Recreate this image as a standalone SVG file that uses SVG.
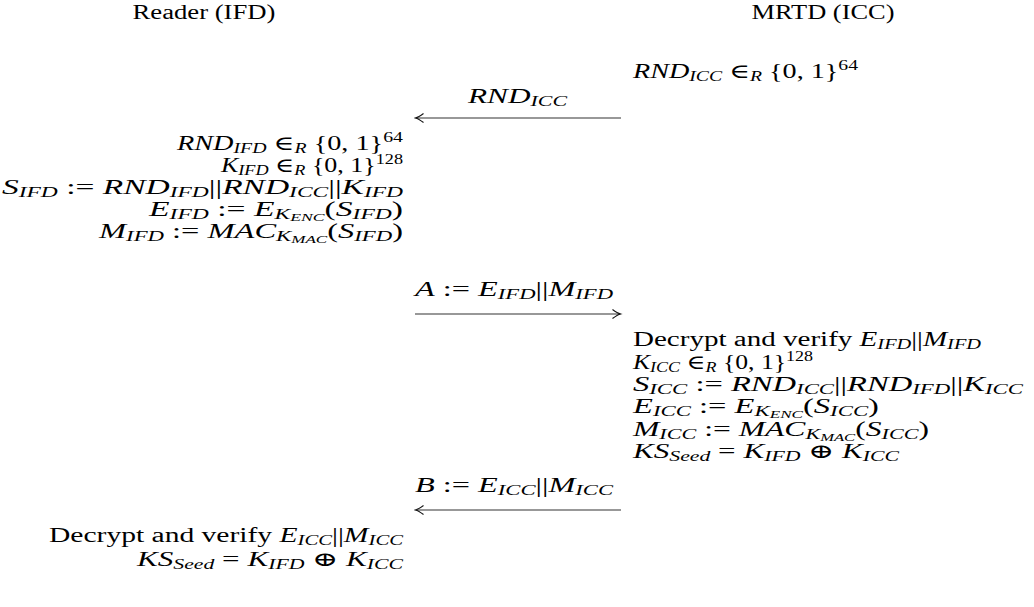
<svg xmlns="http://www.w3.org/2000/svg" width="1034" height="607" viewBox="0 0 1034 607">
<style>
.t{font-family:"Liberation Serif","Times New Roman","DejaVu Serif",serif;font-size:20px;fill:#000}
.i{font-style:italic}
.s{font-size:14px}
.ss{font-size:10.5px}
.c{fill:none;stroke:#333;stroke-width:1.2}
</style>
<defs>
<marker id="ah" markerUnits="userSpaceOnUse" orient="auto" viewBox="-10 -6 12 12" markerWidth="12" markerHeight="12" refX="0" refY="0">
<path d="M-8,-4.5 Q-3,-0.8 0,0 Q-3,0.8 -8,4.5" fill="none" stroke="#111" stroke-width="1.1"/>
</marker>
</defs>
<rect width="1034" height="607" fill="#fff"/>

<g id="reader-header"><text class="t" x="204" y="19" text-anchor="middle" textLength="143" lengthAdjust="spacingAndGlyphs">Reader (IFD)</text></g>
<g id="mrtd-header"><text class="t" x="823" y="19" text-anchor="middle" textLength="143" lengthAdjust="spacingAndGlyphs">MRTD (ICC)</text></g>

<g id="mrtd-step1">
<text class="t" x="633" y="78" textLength="225" lengthAdjust="spacingAndGlyphs"><tspan class="i">RND</tspan><tspan class="i s" dy="3">ICC</tspan><tspan dy="-3"> ∈</tspan><tspan class="i s" dy="3">R</tspan><tspan dy="-3"> {0, 1}</tspan><tspan class="s" dy="-8">64</tspan></text>
</g>

<g id="reader-step2">
<text class="t" x="403" y="150" text-anchor="end" textLength="226" lengthAdjust="spacingAndGlyphs"><tspan class="i">RND</tspan><tspan class="i s" dy="3">IFD</tspan><tspan dy="-3"> ∈</tspan><tspan class="i s" dy="3">R</tspan><tspan dy="-3"> {0, 1}</tspan><tspan class="s" dy="-8">64</tspan></text>
<text class="t" x="403" y="172" text-anchor="end" textLength="182" lengthAdjust="spacingAndGlyphs"><tspan class="i">K</tspan><tspan class="i s" dy="3">IFD</tspan><tspan dy="-3"> ∈</tspan><tspan class="i s" dy="3">R</tspan><tspan dy="-3"> {0, 1}</tspan><tspan class="s" dy="-8">128</tspan></text>
<text class="t" x="403" y="194" text-anchor="end" textLength="401" lengthAdjust="spacingAndGlyphs"><tspan class="i">S</tspan><tspan class="i s" dy="3">IFD</tspan><tspan dy="-3"> := </tspan><tspan class="i">RND</tspan><tspan class="i s" dy="3">IFD</tspan><tspan dy="-3">||</tspan><tspan class="i">RND</tspan><tspan class="i s" dy="3">ICC</tspan><tspan dy="-3">||</tspan><tspan class="i">K</tspan><tspan class="i s" dy="3">IFD</tspan></text>
<text class="t" x="403" y="216" text-anchor="end" textLength="254" lengthAdjust="spacingAndGlyphs"><tspan class="i">E</tspan><tspan class="i s" dy="3">IFD</tspan><tspan dy="-3"> := </tspan><tspan class="i">E</tspan><tspan class="i s" dy="3">K</tspan><tspan class="i ss" dy="1.5">ENC</tspan><tspan dy="-4.5">(</tspan><tspan class="i">S</tspan><tspan class="i s" dy="3">IFD</tspan><tspan dy="-3">)</tspan></text>
<text class="t" x="403" y="238" text-anchor="end" textLength="304" lengthAdjust="spacingAndGlyphs"><tspan class="i">M</tspan><tspan class="i s" dy="3">IFD</tspan><tspan dy="-3"> := </tspan><tspan class="i">MAC</tspan><tspan class="i s" dy="3">K</tspan><tspan class="i ss" dy="1.5">MAC</tspan><tspan dy="-4.5">(</tspan><tspan class="i">S</tspan><tspan class="i s" dy="3">IFD</tspan><tspan dy="-3">)</tspan></text>
</g>

<g id="mrtd-step3">
<text class="t" x="633" y="346" textLength="348" lengthAdjust="spacingAndGlyphs">Decrypt and verify <tspan class="i">E</tspan><tspan class="i s" dy="3">IFD</tspan><tspan dy="-3">||</tspan><tspan class="i">M</tspan><tspan class="i s" dy="3">IFD</tspan></text>
<text class="t" x="633" y="369" textLength="180" lengthAdjust="spacingAndGlyphs"><tspan class="i">K</tspan><tspan class="i s" dy="3">ICC</tspan><tspan dy="-3"> ∈</tspan><tspan class="i s" dy="3">R</tspan><tspan dy="-3"> {0, 1}</tspan><tspan class="s" dy="-8">128</tspan></text>
<text class="t" x="633" y="391" textLength="390" lengthAdjust="spacingAndGlyphs"><tspan class="i">S</tspan><tspan class="i s" dy="3">ICC</tspan><tspan dy="-3"> := </tspan><tspan class="i">RND</tspan><tspan class="i s" dy="3">ICC</tspan><tspan dy="-3">||</tspan><tspan class="i">RND</tspan><tspan class="i s" dy="3">IFD</tspan><tspan dy="-3">||</tspan><tspan class="i">K</tspan><tspan class="i s" dy="3">ICC</tspan></text>
<text class="t" x="633" y="413" textLength="246" lengthAdjust="spacingAndGlyphs"><tspan class="i">E</tspan><tspan class="i s" dy="3">ICC</tspan><tspan dy="-3"> := </tspan><tspan class="i">E</tspan><tspan class="i s" dy="3">K</tspan><tspan class="i ss" dy="1.5">ENC</tspan><tspan dy="-4.5">(</tspan><tspan class="i">S</tspan><tspan class="i s" dy="3">ICC</tspan><tspan dy="-3">)</tspan></text>
<text class="t" x="633" y="436" textLength="296" lengthAdjust="spacingAndGlyphs"><tspan class="i">M</tspan><tspan class="i s" dy="3">ICC</tspan><tspan dy="-3"> := </tspan><tspan class="i">MAC</tspan><tspan class="i s" dy="3">K</tspan><tspan class="i ss" dy="1.5">MAC</tspan><tspan dy="-4.5">(</tspan><tspan class="i">S</tspan><tspan class="i s" dy="3">ICC</tspan><tspan dy="-3">)</tspan></text>
<text class="t" x="633" y="458" textLength="266" lengthAdjust="spacingAndGlyphs"><tspan class="i">KS</tspan><tspan class="i s" dy="3">Seed</tspan><tspan dy="-3"> = </tspan><tspan class="i">K</tspan><tspan class="i s" dy="3">IFD</tspan><tspan dy="-3"> ⊕ </tspan><tspan class="i">K</tspan><tspan class="i s" dy="3">ICC</tspan></text>
</g>

<g id="reader-step4">
<text class="t" x="403" y="542" text-anchor="end" textLength="354" lengthAdjust="spacingAndGlyphs">Decrypt and verify <tspan class="i">E</tspan><tspan class="i s" dy="3">ICC</tspan><tspan dy="-3">||</tspan><tspan class="i">M</tspan><tspan class="i s" dy="3">ICC</tspan></text>
<text class="t" x="403" y="566" text-anchor="end" textLength="266" lengthAdjust="spacingAndGlyphs"><tspan class="i">KS</tspan><tspan class="i s" dy="3">Seed</tspan><tspan dy="-3"> = </tspan><tspan class="i">K</tspan><tspan class="i s" dy="3">IFD</tspan><tspan dy="-3"> ⊕ </tspan><tspan class="i">K</tspan><tspan class="i s" dy="3">ICC</tspan></text>
</g>

<g id="connectors">
<g id="msg-rnd-icc">
<path class="c" d="M621,118 H415.5" marker-end="url(#ah)"/>
<text class="t" x="468" y="103" textLength="99" lengthAdjust="spacingAndGlyphs"><tspan class="i">RND</tspan><tspan class="i s" dy="3">ICC</tspan></text>
</g>
<g id="msg-a">
<path class="c" d="M415,314 H620.5" marker-end="url(#ah)"/>
<text class="t" x="415" y="296" textLength="198" lengthAdjust="spacingAndGlyphs"><tspan class="i">A</tspan> := <tspan class="i">E</tspan><tspan class="i s" dy="3">IFD</tspan><tspan dy="-3">||</tspan><tspan class="i">M</tspan><tspan class="i s" dy="3">IFD</tspan></text>
</g>
<g id="msg-b">
<path class="c" d="M621,510 H415.5" marker-end="url(#ah)"/>
<text class="t" x="415" y="492" textLength="198" lengthAdjust="spacingAndGlyphs"><tspan class="i">B</tspan> := <tspan class="i">E</tspan><tspan class="i s" dy="3">ICC</tspan><tspan dy="-3">||</tspan><tspan class="i">M</tspan><tspan class="i s" dy="3">ICC</tspan></text>
</g>
</g>
</svg>
